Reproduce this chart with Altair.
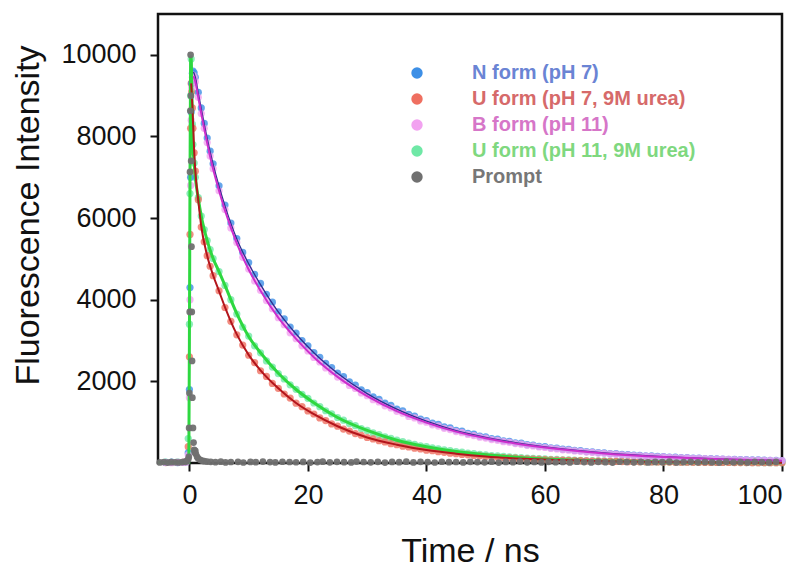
import altair as alt
import pandas as pd

# ---------------- data ----------------
SERIES = ["N form (pH 7)", "U form (pH 7, 9M urea)", "B form (pH 11)",
          "U form (pH 11, 9M urea)", "Prompt"]
SYMBOL_COLORS = ["#3d8fe6", "#ef6f60", "#f2a2f0", "#6fe8a6", "#707070"]
LABEL_COLORS = ["#6a84d4", "#d66a6a", "#d676c8", "#7fd87f", "#777777"]

T = [-4, -3, -2, -1, -0.5, -0.2, 0, 0.1, 0.2, 0.3, 0.4, 0.5, 0.6, 0.8, 1, 1.5,
     2, 2.5, 3, 3.5, 4] + list(range(5, 101))

N_VALS = [15, 22, 10, 18, 30, 250, 1800, 4300, 7000, 8600, 9300, 9550, 9600, 9560,
          9450, 9080, 8700, 8320, 7960, 7640, 7330,
          6790, 6320, 5880, 5500, 5160, 4910, 4620, 4400, 4130, 3940,
          3700, 3530, 3330, 3180, 3000, 2870, 2705, 2590, 2440, 2340,
          2205, 2115, 1990, 1910, 1795, 1725, 1620, 1560, 1465, 1410,
          1320, 1275, 1190, 1150, 1075, 1040, 975, 945, 885, 860,
          800, 780, 725, 708, 660, 642, 600, 585, 545, 532,
          495, 485, 450, 440, 410, 402, 372, 365, 338, 332,
          308, 302, 280, 275, 255, 250, 232, 228, 211, 207,
          192, 189, 175, 172, 160, 157, 146, 143, 133, 130,
          121, 118, 110, 108, 100, 98, 91, 89, 83, 81,
          76, 74, 69, 67, 63, 61]

R_VALS = [10, 18, 12, 20, 35, 400, 2600, 5600, 8200, 9300, 9100, 8700, 8200, 7600,
          7150, 6450, 5780, 5420, 5080, 4820, 4590,
          4220, 3810, 3470, 3140, 2890, 2640, 2460, 2260, 2120, 1950,
          1830, 1690, 1590, 1465, 1380, 1275, 1200, 1105, 1040, 958,
          902, 830, 782, 720, 680, 625, 591, 545, 515, 474,
          449, 413, 392, 361, 343, 315, 300, 276, 262, 241,
          229, 210, 200, 184, 175, 161, 153, 141, 134, 123,
          117, 108, 103, 95, 90, 83, 79, 73, 69, 64,
          61, 56, 53, 49, 47, 43, 41, 38, 36, 33,
          32, 29, 28, 26, 25, 23, 22, 20, 19, 18,
          17, 16, 15, 14, 13, 12, 12, 11, 10, 10,
          9, 9, 8, 8, 7, 7]

B_VALS = [12, 8, 20, 14, 25, 200, 1600, 4000, 6800, 8400, 9200, 9450, 9500, 9450,
          9340, 8960, 8560, 8200, 7850, 7520, 7210,
          6670, 6210, 5760, 5400, 5040, 4750, 4460, 4230, 3980, 3780,
          3560, 3390, 3190, 3045, 2870, 2745, 2585, 2475, 2330, 2235,
          2105, 2020, 1900, 1825, 1715, 1650, 1550, 1495, 1400, 1350,
          1265, 1220, 1140, 1105, 1030, 1000, 935, 905, 850, 818,
          770, 742, 698, 672, 632, 612, 575, 556, 522, 506,
          475, 460, 432, 418, 392, 380, 356, 345, 324, 314,
          295, 286, 268, 260, 244, 236, 222, 215, 202, 196,
          184, 178, 167, 162, 152, 148, 139, 135, 127, 123,
          115, 112, 105, 102, 96, 93, 87, 84, 79, 77,
          72, 70, 66, 63, 60, 57]

G_VALS = [20, 14, 25, 16, 40, 600, 3400, 6600, 9000, 9900, 9300, 8300, 7800, 7350,
          7000, 6500, 6050, 5720, 5450, 5230, 5010,
          4690, 4350, 4000, 3650, 3330, 3110, 2870, 2700, 2500, 2350,
          2190, 2060, 1915, 1805, 1680, 1585, 1470, 1380, 1280, 1205,
          1115, 1050, 970, 915, 845, 798, 736, 694, 640, 605,
          558, 526, 485, 458, 421, 399, 368, 348, 320, 303,
          279, 264, 243, 229, 211, 200, 184, 174, 160, 151,
          139, 132, 121, 115, 106, 100, 92, 87, 80, 76,
          70, 66, 61, 57, 53, 50, 46, 43, 40, 38,
          35, 33, 30, 29, 27, 25, 23, 22, 20, 19,
          18, 17, 16, 15, 14, 13, 12, 12, 11, 10,
          10, 9, 9, 8, 8, 7]

P_T = [-5, -4.3, -3.7, -3.1, -2.4, -1.8, -1.2, -0.7, -0.4, -0.2, -0.1, -0.05, 0,
       0.05, 0.1, 0.15, 0.2, 0.25, 0.3, 0.35, 0.4, 0.45, 0.5, 0.6, 0.7, 0.8, 0.9,
       1.0, 1.1, 1.3, 1.5, 1.8, 2.1, 2.5, 3,
       3.6, 4.4, 5.3, 6.1, 7.0, 8.2, 9.1, 10.3, 11.2, 12.4,
       13.6, 14.5, 15.7, 16.9, 18.0, 19.2, 20.4, 21.6, 22.5, 23.7,
       24.9, 26.1, 27.3, 28.2, 29.4, 30.6, 31.8, 33.0, 34.2, 35.4,
       36.6, 37.8, 39.0, 40.2, 41.4, 42.6, 43.8, 45.0, 46.2, 47.4,
       48.6, 49.8, 51.0, 52.2, 53.4, 54.6, 55.8, 57.0, 58.2, 59.4,
       60.6, 61.8, 63.0, 64.2, 65.4, 66.6, 67.8, 69.0, 70.2, 71.4,
       72.6, 73.8, 75.0, 76.2, 77.4, 78.6, 79.8, 81.0, 82.2, 83.4,
       84.6, 85.8, 87.0, 88.2, 89.4, 90.6, 91.8, 93.0, 94.2, 95.4,
       96.6, 97.8, 99.0]
P_VALS = [15, 25, 10, 20, 18, 12, 22, 30, 45, 90, 150, 860, 1715, 3700, 7130, 8630,
          10000, 9000, 7400, 5300, 3700, 2500, 1600, 860, 500, 320, 260, 300, 220,
          150, 110, 80, 60, 45, 35,
          28, 20, 33, 15, 24, 30, 12, 26, 19, 35,
          22, 14, 31, 25, 18, 27, 10, 23, 32, 16,
          29, 21, 13, 34, 24, 17, 30, 11, 26, 20,
          33, 15, 28, 22, 12, 31, 19, 25, 14, 29,
          23, 17, 32, 10, 27, 21, 34, 16, 24, 13,
          30, 18, 26, 12, 33, 22, 15, 28, 20, 11,
          31, 24, 17, 29, 14, 26, 19, 33, 12, 23,
          30, 16, 27, 21, 10, 32, 18, 25, 13, 28,
          22, 15, 30]

# fitted curves (smooth)
NF_T = [0.7, 1, 1.5, 2, 3, 4, 5, 6, 8, 10, 12, 15, 18, 21, 25, 30, 35, 40, 45, 50,
        55, 60, 70, 80, 90, 100]
NF_V = [9580, 9450, 9060, 8680, 7950, 7320, 6780, 6300, 5490, 4880, 4370, 3700,
        3160, 2700, 2200, 1700, 1320, 1025, 795, 630, 500, 395, 246, 154, 96, 60]
BF_V = [9480, 9340, 8950, 8560, 7840, 7200, 6670, 6190, 5380, 4740, 4220, 3560,
        3040, 2590, 2110, 1640, 1270, 990, 768, 605, 478, 378, 235, 147, 92, 57]
RF_T = [0.3, 0.5, 0.8, 1, 1.5, 2, 3, 4, 5, 6, 8, 10, 12, 15, 18, 21, 25, 30, 35,
        40, 45, 50, 60, 70, 80, 90, 100]
RF_V = [9300, 8750, 7650, 7150, 6430, 5800, 5080, 4600, 4210, 3820, 3150, 2650,
        2270, 1830, 1470, 1195, 900, 625, 448, 316, 228, 161, 83, 43, 23, 12, 7]
GF_T = [-5.3, -0.1, 0.05, 0.2, 0.3, 0.4, 0.6, 0.8, 1, 1.5, 2, 3, 4, 5, 6, 8, 10,
        12, 15, 18, 21, 25, 30, 35, 40, 45, 50, 60, 70, 80, 90, 100]
GF_V = [10, 10, 5000, 9900, 9950, 9200, 7800, 7350, 7000, 6480, 6050, 5450, 5010,
        4690, 4350, 3660, 3100, 2700, 2200, 1800, 1475, 1115, 798, 558, 398, 280,
        200, 100, 50, 25, 13, 7]

FIT_COLORS = {"G": "#2ed840", "R": "#b3151c", "N": "#2c2f8f", "B": "#cc2fcc"}

# ---------------- tables ----------------
pts = pd.concat([
    pd.DataFrame({"t": T, "I": G_VALS, "series": SERIES[3]}),
    pd.DataFrame({"t": T, "I": R_VALS, "series": SERIES[1]}),
    pd.DataFrame({"t": T, "I": N_VALS, "series": SERIES[0]}),
    pd.DataFrame({"t": T, "I": B_VALS, "series": SERIES[2]}),
], ignore_index=True)
pts["o"] = range(len(pts))
prompt = pd.DataFrame({"t": P_T, "I": P_VALS, "series": SERIES[4]})

fits = {
    "N": pd.DataFrame({"t": NF_T, "I": NF_V}),
    "B": pd.DataFrame({"t": NF_T, "I": BF_V}),
    "R": pd.DataFrame({"t": RF_T, "I": RF_V}),
    "G": pd.DataFrame({"t": GF_T, "I": GF_V}),
}

# ---------------- encodings ----------------
FONT = "Liberation Sans"
x_enc = alt.X("t:Q", scale=alt.Scale(domain=[-5.3, 100], nice=False, zero=False),
              axis=alt.Axis(values=[0, 20, 40, 60, 80, 100], title="Time / ns",
                            titleX=312, titleY=98, titleAlign="center",
                            titleBaseline="alphabetic", labelPadding=11))
y_enc = alt.Y("I:Q", scale=alt.Scale(domain=[0, 11000], nice=False),
              axis=alt.Axis(values=[2000, 4000, 6000, 8000, 10000], format="d",
                            title="Fluorescence Intensity", titleX=-120, titleY=201,
                            titleAngle=-90, titleAlign="center",
                            titleBaseline="alphabetic", labelPadding=14))

label_expr = " : ".join(
    f"datum.label == '{s}' ? '{c}'" for s, c in zip(SERIES, LABEL_COLORS)
) + " : '#777777'"

color_enc = alt.Color(
    "series:N",
    scale=alt.Scale(domain=SERIES, range=SYMBOL_COLORS),
    legend=alt.Legend(title=None, orient="none", legendX=249, legendY=49,
                      labelFont=FONT, labelFontSize=20, labelFontWeight="bold",
                      labelColor=alt.ExprRef(expr=label_expr),
                      symbolType="circle", symbolSize=130, symbolOpacity=1,
                      symbolStrokeWidth=0, labelOffset=45, rowPadding=6,
                      padding=0, labelLimit=0),
)

scatter = alt.Chart(pts).mark_circle(size=52, opacity=0.8).encode(
    x=x_enc, y=y_enc, color=color_enc, order=alt.Order("o:Q"))

layers = [scatter]
for key in ["G", "R", "N", "B"]:
    w = {"G": 3, "R": 2, "N": 1.3, "B": 2}[key]
    layers.append(
        alt.Chart(fits[key]).mark_line(color=FIT_COLORS[key], strokeWidth=w,
                                       interpolate="monotone")
        .encode(x=x_enc, y=y_enc, order=alt.Order("t:Q"))
    )
prompt_layer = alt.Chart(prompt).mark_circle(size=45, opacity=0.95).encode(
    x=x_enc, y=y_enc, color=color_enc)
layers.append(prompt_layer)

chart = alt.layer(*layers).properties(
    width=624, height=449,
    background="white",
    autosize=alt.AutoSizeParams(type="none"),
    padding={"left": 158, "top": 14, "right": 25, "bottom": 104},
).configure_view(
    stroke="#111111", strokeWidth=2.5
).configure_axis(
    domain=False, grid=False, tickColor="#111111", tickWidth=2, tickSize=8,
    labelFont=FONT, labelFontSize=27, labelColor="#111111",
    titleFont=FONT, titleFontSize=34, titleFontWeight="normal", titleColor="#111111",
)

chart.save("out.html", embed_options={"renderer": "svg", "actions": False})
